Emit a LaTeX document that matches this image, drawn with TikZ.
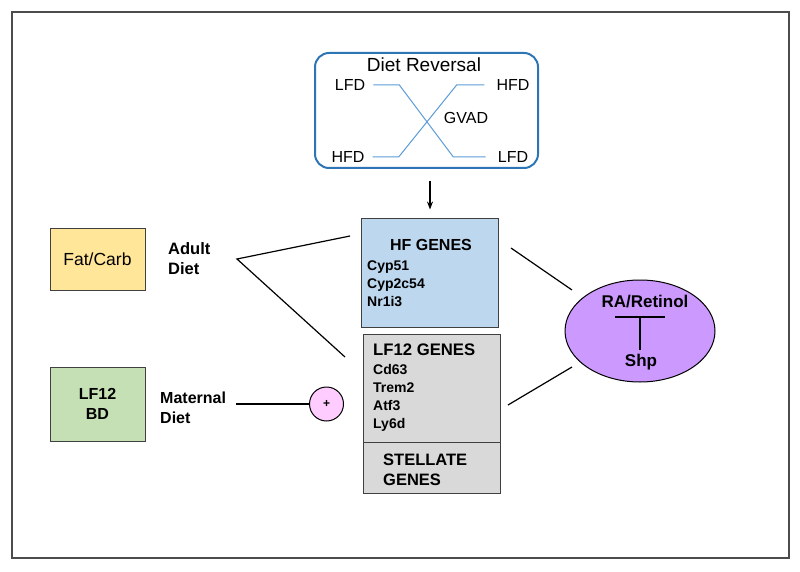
\documentclass[tikz,border=0pt]{standalone}
\usepackage{fontspec}
\setmainfont{Liberation Sans}
\usetikzlibrary{arrows.meta,shapes.geometric}

\definecolor{hfblue}{HTML}{BDD7EE}
\definecolor{lfgray}{HTML}{D9D9D9}
\definecolor{fatyellow}{HTML}{FFE699}
\definecolor{bdgreen}{HTML}{C5E0B4}
\definecolor{rapurple}{HTML}{CC99FF}
\definecolor{pluspink}{HTML}{FFCCFF}
\definecolor{revblue}{HTML}{2E75B6}
\definecolor{crossblue}{HTML}{5B9BD5}

\begin{document}
\begin{tikzpicture}[x=1pt, y=-1pt,
    box/.style={draw=black!75, line width=1pt},
    gene/.style={font=\fontsize{14}{16}\selectfont\bfseries, anchor=base west, inner sep=0pt},
    diet/.style={font=\fontsize{16.5}{20}\selectfont\bfseries, align=left, anchor=west, inner sep=0pt},
    rev/.style={font=\fontsize{16}{18}\selectfont, inner sep=0pt},
    cross/.style={crossblue, line width=1pt},
    link/.style={line width=1.2pt}]

    % Frame
    \useasboundingbox (0,0) rectangle (800,572);
    \draw[black!70, line width=1.5pt] (12,12) rectangle (789,558);

    % Diet reversal
    \node[draw=revblue, line width=2pt, rounded corners=14pt, minimum width=223pt, minimum height=115pt] (rev) at (426.5,110.5) {};
    \node[font=\fontsize{19}{22}\selectfont, inner sep=0pt] (revtitle) at (424,65) {Diet Reversal};
    \node[rev] (lfd-l) at (350,85) {LFD};
    \node[rev] (hfd-r) at (513,85) {HFD};
    \node[rev] (hfd-l) at (348,157) {HFD};
    \node[rev] (lfd-r) at (513,157) {LFD};
    \node[rev] (gvad) at (466,118) {GVAD};
    \draw[cross] ([xshift=8pt]lfd-l.east) -- ++(26,0) -- ++(54,72) -- ([xshift=-12pt]lfd-r.west);
    \draw[cross] ([xshift=8pt]hfd-l.east) -- ++(26,0) -- ++(58,-72) -- ([xshift=-12pt]hfd-r.west);

    % Gene boxes
    \node[box, fill=hfblue, minimum width=137pt, minimum height=109pt] (hf) at (430,272.5) {};
    \node[box, fill=lfgray, minimum width=137pt, minimum height=108pt] (lf) at (431.5,388) {};
    \node[box, fill=lfgray, minimum width=137pt, minimum height=51pt] (stellate) at (431.5,467.5) {};
    \draw[-{Stealth[length=8pt,width=6pt]}, line width=1.2pt] ([yshift=36pt]hf.north) -- ([yshift=8pt]hf.north);

    \node[font=\fontsize{16}{18}\selectfont\bfseries, inner sep=0pt] (hf-title) at (431,245) {HF GENES};
    \foreach \g [count=\i] in {Cyp51,Cyp2c54,Nr1i3}
        \node[gene] (hf-\i) at (367, 252+18*\i) {\g};

    \node[font=\fontsize{16.7}{20}\selectfont\bfseries, anchor=west, inner sep=0pt] (lf-title) at (373,350) {LF12 GENES};
    \foreach \g [count=\i] in {Cd63,Trem2,Atf3,Ly6d}
        \node[gene] (lf-\i) at (373, 356+18*\i) {\g};

    \node[diet] (stellate-text) at (383,470) {STELLATE\\GENES};

    % Diets
    \node[box, fill=fatyellow, minimum width=95pt, minimum height=62pt, font=\fontsize{17.5}{20}\selectfont] (fat) at (97.5,259) {Fat/Carb};
    \node[box, fill=bdgreen, minimum width=95pt, minimum height=74pt, font=\fontsize{16}{20}\selectfont\bfseries, align=center] (bd) at (97.5,404) {LF12\\BD};
    \node[diet] (adult) at (168,259) {Adult\\Diet};
    \node[diet, font=\fontsize{16}{20}\selectfont\bfseries] (maternal) at (160,407.5) {Maternal\\Diet};

    \coordinate (fork) at (237,259);
    \coordinate (hf-in) at (350,236);
    \coordinate (lf-in) at (345,357);
    \draw[link] (hf-in) -- (fork) -- (lf-in);

    \node[circle, draw, line width=1pt, fill=pluspink, minimum size=34pt, inner sep=0pt, font=\fontsize{12}{14}\selectfont\bfseries] (plus) at (326.5,404) {+};
    \draw[link] ([xshift=10pt]maternal.east |- plus.west) -- (plus.west);

    % RA / Retinol
    \node[ellipse, draw, line width=1pt, fill=rapurple, minimum width=150pt, minimum height=102pt] (ra) at (640,331) {};
    \node[font=\fontsize{17}{20}\selectfont\bfseries, inner sep=0pt] (retinol) at (645,302) {RA/Retinol};
    \node[font=\fontsize{17}{20}\selectfont\bfseries, inner sep=0pt] (shp) at (641,362) {Shp};
    \draw[line width=1.5pt, -{Bar[width=50pt,line width=1.5pt]}] ([yshift=-19pt]ra.center) -- ([yshift=15pt]ra.center);

    \coordinate (hf-out) at (511,248);
    \coordinate (ra-top) at (572,290);
    \coordinate (lf-out) at (508,405);
    \coordinate (ra-bot) at (572,367);
    \draw[link] (hf-out) -- (ra-top);
    \draw[link] (lf-out) -- (ra-bot);
\end{tikzpicture}
\end{document}
